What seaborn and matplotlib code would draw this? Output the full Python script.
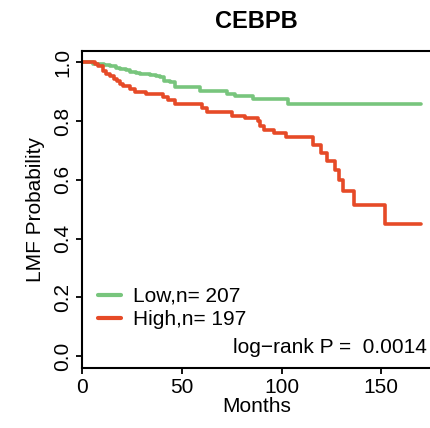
import matplotlib
matplotlib.use("Agg")
import matplotlib.pyplot as plt
import seaborn as sns
import pandas as pd

# ---- data ----
low_label = "Low,n= 207"
high_label = "High,n= 197"
low_time = [0, 5.5, 8, 11, 14, 17, 19, 22, 24, 27, 29, 34, 37, 39, 41, 44, 46.5, 59, 72.5, 76.6, 85.7, 103, 170]
low_surv = [1.0, 0.996, 0.993, 0.99, 0.987, 0.982, 0.979, 0.973, 0.968, 0.964, 0.961, 0.957, 0.953, 0.95,
            0.938, 0.933, 0.917, 0.902, 0.894, 0.887, 0.876, 0.86, 0.86]
high_time = [0, 6.4, 8, 10.5, 12, 14, 16, 17.3, 19, 20.5, 24, 26.5, 32, 40.6, 43, 46.5, 60, 62.5, 75, 81.7,
             88, 89, 91, 96, 102, 116, 119.6, 123, 127, 129, 131, 136.6, 152, 170]
high_surv = [1.0, 0.995, 0.987, 0.97, 0.962, 0.953, 0.945, 0.936, 0.928, 0.919, 0.908, 0.9, 0.893, 0.881,
             0.873, 0.859, 0.845, 0.83, 0.819, 0.811, 0.8, 0.782, 0.771, 0.76, 0.746, 0.72, 0.693, 0.665,
             0.634, 0.6, 0.562, 0.514, 0.45, 0.45]
x_ticks = [0, 50, 100, 150]
y_ticks = [0.0, 0.2, 0.4, 0.6, 0.8, 1.0]
title = "CEBPB"
pval_text = "log\u2212rank P =  0.0014"
colors = {low_label: "#78C57D", high_label: "#E64A27"}

df = pd.concat([
    pd.DataFrame({"Months": low_time, "Surv": low_surv, "Group": low_label}),
    pd.DataFrame({"Months": high_time, "Surv": high_surv, "Group": high_label}),
], ignore_index=True)

sns.set_style("ticks")
plt.rcParams["font.family"] = ["Liberation Sans", "DejaVu Sans"]
plt.rcParams.update({"text.color": "black", "axes.labelcolor": "black",
                     "xtick.color": "black", "ytick.color": "black"})

W, H = 431, 428
fig = plt.figure(figsize=(W / 100, H / 100), dpi=100)
ax_left, ax_right = 82.3, 431
ax_top, ax_bot = 50.7, 367.7
ax = fig.add_axes([ax_left / W, 1 - ax_bot / H, (ax_right - ax_left) / W, (ax_bot - ax_top) / H])

sns.lineplot(data=df, x="Months", y="Surv", hue="Group", palette=colors,
             estimator=None, sort=False, drawstyle="steps-post", linewidth=2.6, ax=ax,
             hue_order=[low_label, high_label])

ax.set_xlim(0, 175)
ax.set_ylim(-0.04, 1.04)
ax.set_xticks(x_ticks)
ax.set_xticklabels([str(v) for v in x_ticks])
ax.set_yticks(y_ticks)
ax.set_yticklabels([f"{v:.1f}" for v in y_ticks], rotation=90, va="center")
ax.tick_params(axis="both", labelsize=15, length=4.5, width=1.3, color="black",
               labelcolor="black", pad=3)
for s in ["left", "bottom", "top"]:
    ax.spines[s].set_linewidth(1.5)
    ax.spines[s].set_color("black")
ax.spines["right"].set_visible(False)

ax.set_xlabel("Months", fontsize=15, labelpad=0, color="black")
ax.set_ylabel("LMF Probability", fontsize=15, labelpad=6, color="black")

leg = ax.legend(frameon=False, loc="upper left", bbox_to_anchor=(98 / W, 1 - 287 / H),
                bbox_transform=fig.transFigure, fontsize=15, handlelength=1.1,
                handletextpad=0.6, labelspacing=0.2, borderpad=0, borderaxespad=0)
for line in leg.get_lines():
    line.set_linewidth(3)
for t in leg.get_texts():
    t.set_color("black")

fig.text(427 / W, 1 - 353 / H, pval_text, ha="right", va="baseline", fontsize=15, color="black")
fig.text((ax_left + ax_right) / 2 / W, 1 - 28 / H, title, ha="center", va="baseline",
         fontsize=17, fontweight="bold", color="black")

fig.savefig("out.png", dpi=100)
